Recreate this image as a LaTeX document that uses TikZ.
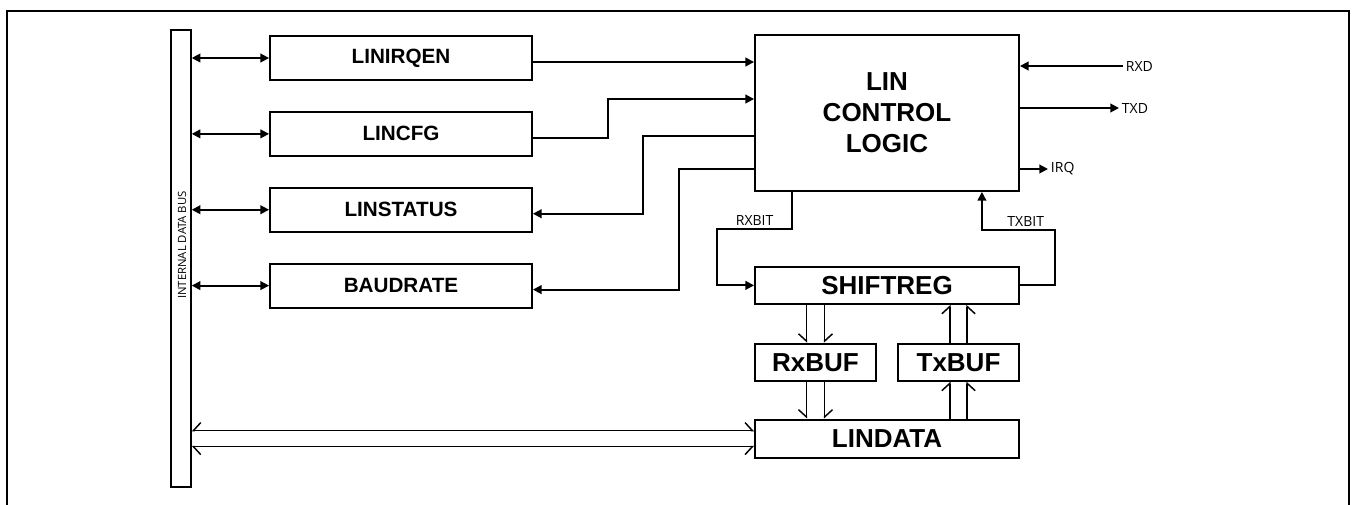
\documentclass[tikz,border=0pt]{standalone}
\usepackage{fontspec}
\setmainfont{Liberation Sans}
\newfontfamily\lblfont{Open Sans}
\usetikzlibrary{arrows.meta, positioning, calc}

\begin{document}
\begin{tikzpicture}[x=0.75pt, y=-0.75pt,
    reg/.style={draw, line width=1.4pt, minimum width=196.5pt, minimum height=33pt, inner sep=0pt,
      font=\bfseries\fontsize{15.5}{18}\selectfont},
    blk/.style={draw, line width=1.4pt, inner sep=0pt, align=center,
      font=\bfseries\fontsize{19.5}{23.3}\selectfont},
    lbl/.style={font=\lblfont\fontsize{10.5}{12}\selectfont, inner sep=2pt},
    sig/.style={line width=1.4pt, -{Triangle[length=6.5pt, width=6.5pt]}},
    bidir/.style={line width=1.4pt, {Triangle[length=6.5pt, width=6.5pt]}-{Triangle[length=6.5pt, width=6.5pt]}},
    hl/.style={line width=1.1pt, -{Straight Barb[harpoon, length=5.5pt, width=12pt]}},
    hr/.style={line width=1.1pt, -{Straight Barb[harpoon, swap, length=5.5pt, width=12pt]}}
  ]
  \useasboundingbox (0,0) rectangle (1352,504);
  \draw[line width=2pt] (7,520) -- (7,11) -- (1349,11) -- (1349,520);

  % internal bus
  \node[draw, line width=1.1pt, minimum width=15pt, minimum height=342.75pt, inner sep=0pt] (bus) at (181,258.5) {};
  \node[lbl, rotate=90, font=\lblfont\fontsize{8.5}{10}\selectfont] (busname) at (182,245) {INTERNAL DATA BUS};

  % registers
  \node[reg] (irqen) at (401,58) {LINIRQEN};
  \node[reg, below=22.5pt of irqen] (cfg) {LINCFG};
  \node[reg, below=22.5pt of cfg] (status) {LINSTATUS};
  \node[reg, below=22.5pt of status] (baud) {BAUDRATE};

  % control and data path
  \node[blk, minimum width=198pt, minimum height=117pt] (cl) at (887,113) {LIN\\CONTROL\\LOGIC};
  \node[blk, minimum width=198pt, minimum height=27.75pt, below=55.5pt of cl] (shift) {SHIFTREG};
  \node[blk, minimum width=90.75pt, minimum height=27.75pt, below right=28.5pt and 0pt of shift.south west] (rxbuf) {RxBUF};
  \node[blk, minimum width=90.75pt, minimum height=27.75pt, below left=28.5pt and 0pt of shift.south east] (txbuf) {TxBUF};
  \node[blk, minimum width=198pt, minimum height=28.5pt, below right=27.75pt and 0pt of rxbuf.south west] (lindata) {LINDATA};

  % bus to registers
  \foreach \r in {irqen, cfg, status, baud}
    \draw[bidir] (bus.east |- \r.west) -- (\r.west);

  % registers to control logic
  \coordinate (irqout) at ([yshift=-3pt]irqen.east);
  \draw[sig] (irqout) -- (irqout -| cl.west);
  \draw[sig] ([yshift=-3pt]cfg.east) -- ++(75,0) |- ([yshift=10.5pt]cl.west);
  \draw[sig] ([yshift=-17.25pt]cl.west) -- ++(-111,0) |- ([yshift=-3pt]status.east);
  \draw[sig] ([yshift=-42pt]cl.west) -- ++(-75,0) |- ([yshift=-3pt]baud.east);

  % external pins
  \node[lbl, anchor=west] (rxd) at (1123,66) {RXD};
  \node[lbl, anchor=west] (txd) at (1119,108) {TXD};
  \node[lbl, anchor=west] (irq) at (1048,169) {IRQ};
  \draw[sig] (rxd.west) -- (rxd.west -| cl.east);
  \draw[sig] (txd.west -| cl.east) -- (txd.west);
  \draw[sig] (irq.west -| cl.east) -- (irq.west);

  % bit lines
  \draw[sig] ([xshift=28.5pt]cl.south west) -- ++(0,37) -- ++(-75,0) node[lbl, midway, above] {RXBIT} |- (shift.west);
  \draw[sig] (shift.east) -- ++(35,0) -- ++(0,-55.5) -- ++(-73,0) node[lbl, pos=0.4, above] {TXBIT} -- ([xshift=-28.5pt]cl.south east);

  % buffers
  \draw[hr] ([xshift=-6.75pt]rxbuf.north |- shift.south) -- ([xshift=-6.75pt]rxbuf.north);
  \draw[hl] ([xshift=6.75pt]rxbuf.north |- shift.south) -- ([xshift=6.75pt]rxbuf.north);
  \draw[hr] ([xshift=-6.75pt]rxbuf.south) -- ([xshift=-6.75pt]rxbuf.south |- lindata.north);
  \draw[hl] ([xshift=6.75pt]rxbuf.south) -- ([xshift=6.75pt]rxbuf.south |- lindata.north);
  \draw[hl] ([xshift=-6.5pt]txbuf.north) -- ([xshift=-6.5pt]txbuf.north |- shift.south);
  \draw[hr] ([xshift=6.5pt]txbuf.north) -- ([xshift=6.5pt]txbuf.north |- shift.south);
  \draw[hl] ([xshift=-6.5pt]txbuf.south |- lindata.north) -- ([xshift=-6.5pt]txbuf.south);
  \draw[hr] ([xshift=6.5pt]txbuf.south |- lindata.north) -- ([xshift=6.5pt]txbuf.south);

  % data register to bus
  \draw[line width=1.1pt, {Straight Barb[harpoon, swap, length=5.5pt, width=12pt]}-{Straight Barb[harpoon, length=5.5pt, width=12pt]}]
    ([yshift=6pt]lindata.west -| bus.east) -- ([yshift=6pt]lindata.west);
  \draw[line width=1.1pt, {Straight Barb[harpoon, length=5.5pt, width=12pt]}-{Straight Barb[harpoon, swap, length=5.5pt, width=12pt]}]
    ([yshift=-6pt]lindata.west -| bus.east) -- ([yshift=-6pt]lindata.west);
\end{tikzpicture}
\end{document}
